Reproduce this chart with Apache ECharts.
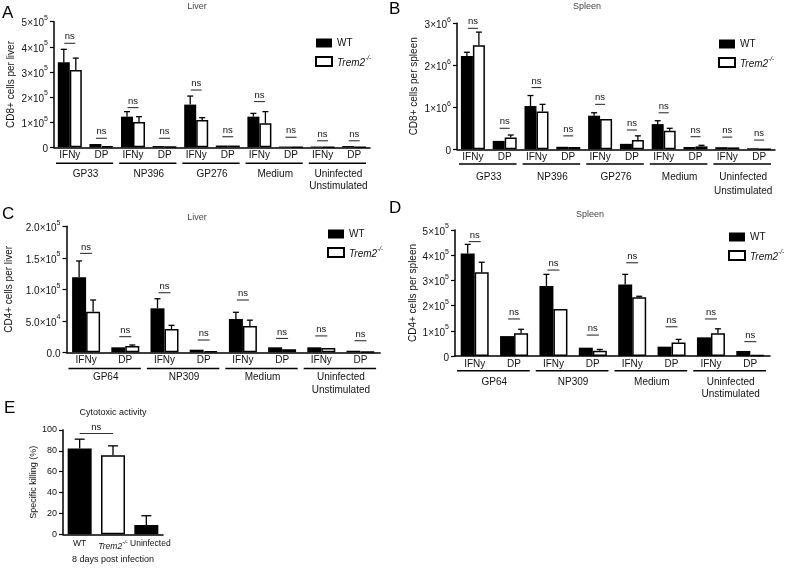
<!DOCTYPE html>
<html><head><meta charset="utf-8">
<script src="https://cdn.jsdelivr.net/npm/echarts@6/dist/echarts.min.js"></script>
<style>html,body{margin:0;padding:0;background:#fff}#c{width:787px;height:569px}</style>
</head><body><div id="c"></div>
<script>
// ---------- DATA ----------
// Panel A: CD8+ cells per liver
const catsA = ['IFNy','DP','IFNy','DP','IFNy','DP','IFNy','DP','IFNy','DP'];
const groupsA = ['GP33','NP396','GP276','Medium','Uninfected\nUnstimulated'];
const wtA = [3.39e5, 0.13e5, 1.22e5, 0.05e5, 1.70e5, 0.07e5, 1.22e5, 0.03e5, 0.03e5, 0.05e5];
const wtSemA = [0.51e5, 0.02e5, 0.20e5, 0.01e5, 0.34e5, 0.01e5, 0.13e5, 0.005e5, 0.005e5, 0.005e5];
const trA = [3.08e5, 0.05e5, 1.01e5, 0.02e5, 1.09e5, 0.07e5, 0.96e5, 0.01e5, 0.005e5, 0.01e5];
const trSemA = [0.47e5, 0.01e5, 0.21e5, 0.005e5, 0.09e5, 0.01e5, 0.46e5, 0, 0, 0];
const nsA = [4.14e5, 0.36e5, 1.58e5, 0.36e5, 2.28e5, 0.42e5, 1.82e5, 0.40e5, 0.26e5, 0.26e5];
const ticksA = ['0','1×10^5','2×10^5','3×10^5','4×10^5','5×10^5'];

// Panel B: CD8+ cells per spleen
const catsB = ['IFNy','DP','IFNy','DP','IFNy','DP','IFNy','DP','IFNy','DP'];
const groupsB = ['GP33','NP396','GP276','Medium','Uninfected\nUnstimulated'];
const wtB = [2.22e6, 0.20e6, 1.03e6, 0.06e6, 0.80e6, 0.13e6, 0.60e6, 0.055e6, 0.05e6, 0.025e6];
const wtSemB = [0.09e6, 0.01e6, 0.25e6, 0.005e6, 0.07e6, 0.01e6, 0.08e6, 0.005e6, 0.005e6, 0.003e6];
const trB = [2.48e6, 0.28e6, 0.90e6, 0.055e6, 0.72e6, 0.22e6, 0.44e6, 0.07e6, 0.045e6, 0.005e6];
const trSemB = [0.31e6, 0.06e6, 0.17e6, 0.005e6, 0, 0.10e6, 0.06e6, 0.025e6, 0.005e6, 0.002e6];
const nsB = [2.88e6, 0.50e6, 1.47e6, 0.32e6, 1.07e6, 0.46e6, 0.87e6, 0.30e6, 0.29e6, 0.22e6];
const ticksB = ['0','1×10^6','2×10^6','3×10^6'];

// Panel C: CD4+ cells per liver
const catsC = ['IFNy','DP','IFNy','DP','IFNy','DP','IFNy','DP'];
const groupsC = ['GP64','NP309','Medium','Uninfected\nUnstimulated'];
const wtC = [11.9e4, 0.79e4, 6.98e4, 0.41e4, 5.29e4, 0.79e4, 0.79e4, 0.25e4];
const wtSemC = [2.6e4, 0.05e4, 1.52e4, 0.03e4, 1.06e4, 0.05e4, 0.06e4, 0.02e4];
const trC = [6.44e4, 1.0e4, 3.7e4, 0.2e4, 4.17e4, 0.48e4, 0.68e4, 0.1e4];
const trSemC = [1.86e4, 0.16e4, 0.58e4, 0.02e4, 0.93e4, 0.03e4, 0.05e4, 0.01e4];
const nsC = [15.7e4, 2.48e4, 9.46e4, 1.95e4, 8.3e4, 2.2e4, 2.6e4, 1.84e4];
const ticksC = ['0.0','5.0×10^4','1.0×10^5','1.5×10^5','2.0×10^5'];

// Panel D: CD4+ cells per spleen
const catsD = ['IFNy','DP','IFNy','DP','IFNy','DP','IFNy','DP'];
const groupsD = ['GP64','NP309','Medium','Uninfected\nUnstimulated'];
const wtD = [4.07e5, 0.79e5, 2.78e5, 0.33e5, 2.84e5, 0.37e5, 0.74e5, 0.20e5];
const wtSemD = [0.36e5, 0.01e5, 0.46e5, 0.01e5, 0.40e5, 0.01e5, 0.01e5, 0.02e5];
const trD = [3.32e5, 0.90e5, 1.87e5, 0.21e5, 2.33e5, 0.54e5, 0.90e5, 0.04e5];
const trSemD = [0.40e5, 0.16e5, 0.01e5, 0.05e5, 0.04e5, 0.12e5, 0.18e5, 0.005e5];
const nsD = [4.54e5, 1.47e5, 3.41e5, 0.83e5, 3.70e5, 1.16e5, 1.47e5, 0.57e5];
const ticksD = ['0','1×10^5','2×10^5','3×10^5','4×10^5','5×10^5'];

// Panel E: cytotoxic activity
const catsE = ['WT','Trem2','Uninfected'];
const valsE = [82.3, 75.9, 8.9];
const semE = [8.9, 8.9, 8.9];
const nsE = [[0, 1, 96.7]];
const ticksE = ['0','20','40','60','80','100'];

// ---------- STYLE / LAYOUT ----------
const FONT = '"Liberation Sans", Arial, Helvetica, sans-serif';
const INK = '#111';

const panels = [
  {letter:'A', title:'Liver', cats:catsA, groups:groupsA, wt:wtA, wtSem:wtSemA, tr:trA, trSem:trSemA, ns:nsA, ticks:ticksA, max:5e5, interval:1e5,
   yName:'CD8+ cells per liver', grid:{left:54, top:21.7, width:316, height:125.6}, nameGap:38, bw:12, cap:6, nsW:11, ul:16, gl:20.5, lh:12,
   legend:{left:315, top:38}, letterPos:{left:2, top:5}, titlePos:{left:197, top:2}},
  {letter:'B', title:'Spleen', cats:catsB, groups:groupsB, wt:wtB, wtSem:wtSemB, tr:trB, trSem:trSemB, ns:nsB, ticks:ticksB, max:3e6, interval:1e6,
   yName:'CD8+ cells per spleen', grid:{left:457, top:23.3, width:318, height:126}, nameGap:38, bw:12, cap:6, nsW:10, ul:14.7, gl:20.5, lh:14,
   legend:{left:718, top:39}, letterPos:{left:389, top:1}, titlePos:{left:587, top:2}},
  {letter:'C', title:'Liver', cats:catsC, groups:groupsC, wt:wtC, wtSem:wtSemC, tr:trC, trSem:trSemC, ns:nsC, ticks:ticksC, max:2e5, interval:5e4,
   yName:'CD4+ cells per liver', grid:{left:66.5, top:226.3, width:313.6, height:126}, nameGap:52, bw:14, cap:6, nsW:12, ul:16.3, gl:19, lh:12.6,
   legend:{left:327, top:229}, letterPos:{left:2, top:206}, titlePos:{left:197, top:213.5}},
  {letter:'D', title:'Spleen', cats:catsD, groups:groupsD, wt:wtD, wtSem:wtSemD, tr:trD, trSem:trSemD, ns:nsD, ticks:ticksD, max:5e5, interval:1e5,
   yName:'CD4+ cells per spleen', grid:{left:455, top:230, width:315, height:126}, nameGap:37, bw:14, cap:6, nsW:12, ul:14.7, gl:20.5, lh:11.5,
   legend:{left:728, top:232}, letterPos:{left:389, top:200}, titlePos:{left:590, top:210}}
];

function supFmt(s) {
  const p = s.split('^');
  return p.length > 1 ? '{b|' + p[0] + '}{s|' + p[1] + '}' : '{b|' + p[0] + '}';
}
const tickRich = {
  b: {fontSize: 10, color: INK, fontFamily: FONT, verticalAlign: 'bottom', lineHeight: 14},
  s: {fontSize: 7, color: INK, fontFamily: FONT, verticalAlign: 'top', lineHeight: 9}
};
const legendRich = {
  i: {fontSize: 10, fontStyle: 'italic', color: INK, fontFamily: FONT, verticalAlign: 'bottom', lineHeight: 13},
  s: {fontSize: 6.5, fontStyle: 'italic', color: INK, fontFamily: FONT, verticalAlign: 'top', lineHeight: 9}
};

const option = {
  animation: false, backgroundColor: '#fff',
  textStyle: {fontFamily: FONT},
  title: [], legend: [], grid: [], xAxis: [], yAxis: [], series: []
};

function errSeries(gi, vals, sems, sign, bw, cap) {
  return {
    type: 'custom', xAxisIndex: gi, yAxisIndex: gi, clip: false, z: 5, silent: true,
    data: vals.map((v, i) => [i, v, v + sems[i]]),
    renderItem: (params, api) => {
      const p0 = api.coord([api.value(0), api.value(1)]);
      const p1 = api.coord([api.value(0), api.value(2)]);
      if (Math.abs(p0[1] - p1[1]) < 0.8) return null;
      const x = p0[0] + sign * bw / 2;
      return {type: 'group', children: [
        {type: 'line', shape: {x1: x, y1: p0[1], x2: x, y2: p1[1]}, style: {stroke: '#000', lineWidth: 1.3}},
        {type: 'line', shape: {x1: x - cap / 2, y1: p1[1], x2: x + cap / 2, y2: p1[1]}, style: {stroke: '#000', lineWidth: 1.3}}
      ]};
    }
  };
}

function nsSeries(gi, levels, w) {
  return {
    type: 'custom', xAxisIndex: gi, yAxisIndex: gi, clip: false, z: 5, silent: true,
    data: levels.map((v, i) => [i, v]),
    renderItem: (params, api) => {
      const p = api.coord([api.value(0), api.value(1)]);
      return {type: 'group', children: [
        {type: 'line', shape: {x1: p[0] - w / 2, y1: p[1], x2: p[0] + w / 2, y2: p[1]}, style: {stroke: '#333', lineWidth: 1.1}},
        {type: 'text', x: p[0], y: p[1] - 1.5, style: {text: 'ns', align: 'center', verticalAlign: 'bottom', fontSize: 9.5, fontFamily: FONT, fill: INK}}
      ]};
    }
  };
}

function groupSeries(gi, groups, ul, gl, lh) {
  return {
    type: 'custom', xAxisIndex: gi, yAxisIndex: gi, clip: false, z: 5, silent: true,
    data: groups.map((g, k) => [2 * k, 0]),
    renderItem: (params, api) => {
      const p = api.coord([api.value(0), 0]);
      const band = api.size([1, 0])[0];
      const xs = p[0] - band / 2 + 2, xe = p[0] + band * 1.5 - 4;
      const cx = p[0] + band / 2;
      return {type: 'group', children: [
        {type: 'line', shape: {x1: xs, y1: p[1] + ul, x2: xe, y2: p[1] + ul}, style: {stroke: '#000', lineWidth: 1.5}},
        {type: 'text', x: cx, y: p[1] + gl, style: {text: groups[params.dataIndex], align: 'center', verticalAlign: 'top', fontSize: 10, lineHeight: lh, fontFamily: FONT, fill: INK}}
      ]};
    }
  };
}

panels.forEach((P, gi) => {
  option.title.push({text: P.letter, left: P.letterPos.left, top: P.letterPos.top, padding: 0, textStyle: {fontSize: 17, fontWeight: 'normal', color: '#000', fontFamily: FONT}});
  option.title.push({text: P.title, left: P.titlePos.left, top: P.titlePos.top, padding: 0, textAlign: 'center', textStyle: {fontSize: 9, fontWeight: 'normal', color: '#444', fontFamily: FONT}});
  option.grid.push(Object.assign({containLabel: false}, P.grid));
  option.xAxis.push({
    type: 'category', gridIndex: gi, data: P.cats,
    axisLine: {lineStyle: {color: '#000', width: 1.5}}, axisTick: {show: false},
    axisLabel: {fontSize: 10, color: INK, margin: 3, interval: 0, fontFamily: FONT}
  });
  option.yAxis.push({
    type: 'value', gridIndex: gi, min: 0, max: P.max, interval: P.interval,
    name: P.yName, nameLocation: 'middle', nameGap: P.nameGap,
    nameTextStyle: {fontSize: 10, color: INK, fontFamily: FONT},
    axisLine: {show: true, lineStyle: {color: '#000', width: 1.5}},
    axisTick: {show: true, length: 4, lineStyle: {color: '#000', width: 1.2}},
    splitLine: {show: false},
    axisLabel: {margin: 6, formatter: v => supFmt(P.ticks[Math.round(v / P.interval)]), rich: tickRich}
  });
  option.series.push({type: 'bar', name: 'WT', xAxisIndex: gi, yAxisIndex: gi, data: P.wt, barWidth: P.bw, barGap: '0%', itemStyle: {color: '#000'}, silent: true});
  option.series.push({type: 'bar', name: 'Trem2', xAxisIndex: gi, yAxisIndex: gi, data: P.tr, barWidth: P.bw, barGap: '0%', itemStyle: {color: '#fff', borderColor: '#000', borderWidth: 1.5}, silent: true});
  option.series.push(errSeries(gi, P.wt, P.wtSem, -1, P.bw, P.cap));
  option.series.push(errSeries(gi, P.tr, P.trSem, 1, P.bw, P.cap));
  option.series.push(nsSeries(gi, P.ns, P.nsW));
  option.series.push(groupSeries(gi, P.groups, P.ul, P.gl, P.lh));
  option.legend.push({
    left: P.legend.left, top: P.legend.top, orient: 'vertical', padding: 0,
    itemWidth: 16, itemHeight: 9, itemGap: 7, selectedMode: false, icon: 'rect',
    data: ['WT', 'Trem2'],
    formatter: n => n === 'Trem2' ? '{i|Trem2}{s|-/-}' : n,
    textStyle: {fontSize: 10, color: INK, fontFamily: FONT, rich: legendRich}
  });
});

// Panel E
const gE = panels.length;
option.title.push({text: 'E', left: 4, top: 400, padding: 0, textStyle: {fontSize: 17, fontWeight: 'normal', color: '#000', fontFamily: FONT}});
option.title.push({text: 'Cytotoxic activity', left: 113, top: 408, padding: 0, textAlign: 'center', textStyle: {fontSize: 9, fontWeight: 'normal', color: INK, fontFamily: FONT}});
option.grid.push({left: 63, top: 430, width: 100, height: 104.3});
option.xAxis.push({
  type: 'category', gridIndex: gE, data: catsE,
  name: '8 days post infection', nameLocation: 'middle', nameGap: 21,
  nameTextStyle: {fontSize: 9, color: INK, fontFamily: FONT},
  axisLine: {lineStyle: {color: '#000', width: 1.5}}, axisTick: {show: false},
  axisLabel: {interval: 0, margin: 5, fontSize: 8.5, color: INK, fontFamily: FONT,
    formatter: v => v === 'Trem2' ? '{i|Trem2}{s|-/-}' : (v === 'Uninfected' ? '{u|' + v + '}' : v),
    rich: {i: {fontSize: 8.5, fontStyle: 'italic', color: INK, fontFamily: FONT, verticalAlign: 'bottom', lineHeight: 12},
           s: {fontSize: 6, fontStyle: 'italic', color: INK, fontFamily: FONT, verticalAlign: 'top', lineHeight: 8},
           u: {fontSize: 8.5, color: INK, fontFamily: FONT, padding: [0, 0, 0, 8]}}}
});
option.yAxis.push({
  type: 'value', gridIndex: gE, min: 0, max: 100, interval: 20,
  name: 'Specific killing (%)', nameLocation: 'middle', nameGap: 20,
  nameTextStyle: {fontSize: 9, color: INK, fontFamily: FONT},
  axisLine: {show: true, lineStyle: {color: '#000', width: 1.5}},
  axisTick: {show: true, length: 4, lineStyle: {color: '#000', width: 1.2}},
  splitLine: {show: false},
  axisLabel: {margin: 6, fontSize: 9, color: INK, fontFamily: FONT, formatter: v => ticksE[Math.round(v / 20)]}
});
const styleE = [{color: '#000'}, {color: '#fff', borderColor: '#000', borderWidth: 1.5}, {color: '#000'}];
option.series.push({type: 'bar', name: 'Specific killing', xAxisIndex: gE, yAxisIndex: gE, barWidth: 24, silent: true,
  data: valsE.map((v, i) => ({value: v, itemStyle: styleE[i]}))});
option.series.push(errSeries(gE, valsE, semE, 0, 0, 10));
option.series.push({
  type: 'custom', xAxisIndex: gE, yAxisIndex: gE, clip: false, z: 5, silent: true,
  data: nsE,
  renderItem: (params, api) => {
    const a = api.coord([api.value(0), api.value(2)]);
    const b = api.coord([api.value(1), api.value(2)]);
    return {type: 'group', children: [
      {type: 'line', shape: {x1: a[0], y1: a[1], x2: b[0], y2: b[1]}, style: {stroke: '#333', lineWidth: 1.1}},
      {type: 'text', x: (a[0] + b[0]) / 2, y: a[1] - 1.5, style: {text: 'ns', align: 'center', verticalAlign: 'bottom', fontSize: 9.5, fontFamily: FONT, fill: INK}}
    ]};
  },
  encode: {x: [0, 1], y: 2}
});

const chart = echarts.init(document.getElementById('c'), null, {renderer: 'canvas'});
chart.setOption(option);
</script></body></html>
